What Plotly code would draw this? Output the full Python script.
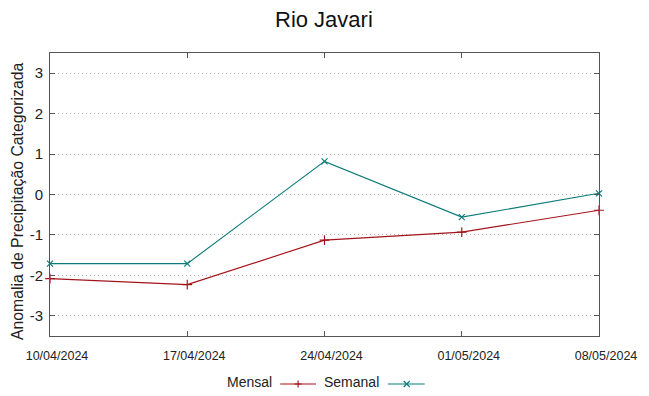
import plotly.graph_objects as go

# ---- data ----
dates = ['10/04/2024', '17/04/2024', '24/04/2024', '01/05/2024', '08/05/2024']
mensal = [-2.08, -2.23, -1.13, -0.93, -0.39]
semanal = [-1.71, -1.71, 0.82, -0.56, 0.03]
y_ticks = [-3, -2, -1, 0, 1, 2, 3]
y_ticktext = ['-3', '-2', '-1', '0', '1', '2', '3']
series_names = ['Mensal', 'Semanal']

W, H = 649, 396
FONT = 'Liberation Sans, Arial, sans-serif'
RED = '#a3141a'
TEAL = '#0c7b7b'
FRAME = '#555555'
LW = 1.15

# plot area in pixels
L, R, T, B = 50, 601, 53, 336
PW, PH = R - L, B - T


def px(x):  # figure pixel -> paper x
    return (x - L) / PW


def py(y):  # figure pixel -> paper y
    return (B - y) / PH


fig = go.Figure()

fig.add_trace(go.Scatter(
    x=dates, y=mensal, name=series_names[0], mode='lines+markers',
    line=dict(color=RED, width=LW),
    marker=dict(symbol='cross-thin', size=7, line=dict(color=RED, width=LW)),
    cliponaxis=False, showlegend=False))
fig.add_trace(go.Scatter(
    x=dates, y=semanal, name=series_names[1], mode='lines+markers',
    line=dict(color=TEAL, width=LW),
    marker=dict(symbol='x-thin', size=6, line=dict(color=TEAL, width=LW)),
    cliponaxis=False, showlegend=False))

# manual legend (text before sample, as in the reference)
leg_y = 384
shapes = []
for col, kind, x0, x1, xm in [
    (RED, 'plus', 281, 317, 299),
    (TEAL, 'cross', 389, 426, 408),
]:
    shapes.append(dict(type='line', xref='paper', yref='paper',
                       x0=px(x0), x1=px(x1), y0=py(leg_y), y1=py(leg_y),
                       line=dict(color=col, width=LW)))
    if kind == 'plus':
        segs = [(-3.5, 0, 3.5, 0), (0, -3.5, 0, 3.5)]
    else:
        segs = [(-3, -3, 3, 3), (-3, 3, 3, -3)]
    for a, b, c, d in segs:
        shapes.append(dict(type='line', xref='paper', yref='paper',
                           xsizemode='pixel', ysizemode='pixel',
                           xanchor=px(xm), yanchor=py(leg_y),
                           x0=a, y0=b, x1=c, y1=d,
                           line=dict(color=col, width=LW)))

annotations = [
    dict(text=series_names[0], x=px(275), y=py(381.5), xref='paper', yref='paper',
         xanchor='right', yanchor='middle', showarrow=False,
         font=dict(family=FONT, size=14, color='#222')),
    dict(text=series_names[1], x=px(323), y=py(381.5), xref='paper', yref='paper',
         xanchor='left', yanchor='middle', showarrow=False,
         font=dict(family=FONT, size=14, color='#222')),
    dict(text='Anomalia de Precipitação Categorizada', x=px(18), y=py(201),
         xref='paper', yref='paper', textangle=-90, xanchor='center', yanchor='middle',
         showarrow=False, font=dict(family=FONT, size=15.8, color='#222')),
    dict(text='Rio Javari', x=px(W / 2), y=py(19), xref='paper', yref='paper',
         xanchor='center', yanchor='middle', showarrow=False,
         font=dict(family=FONT, size=22, color='#111')),
]

fig.update_layout(
    width=W, height=H,
    margin=dict(l=L, r=W - R, t=T, b=H - B, pad=0),
    paper_bgcolor='white', plot_bgcolor='white',
    font=dict(family=FONT, color='#222'),
    showlegend=False,
    annotations=annotations,
    shapes=shapes,
    xaxis=dict(
        type='category', range=[0, len(dates) - 1],
        showline=True, linecolor=FRAME, linewidth=1, mirror='ticks',
        ticks='inside', ticklen=5, tickcolor=FRAME, tickwidth=1,
        showgrid=False, zeroline=False,
        tickfont=dict(family=FONT, size=12.5, color='#222'),
        ticklabelshift=7, ticklabelstandoff=8,
        fixedrange=True,
    ),
    yaxis=dict(
        range=[-3.5, 3.5],
        tickvals=y_ticks, ticktext=y_ticktext,
        showline=True, linecolor=FRAME, linewidth=1, mirror='ticks',
        ticks='inside', ticklen=5, tickcolor=FRAME, tickwidth=1,
        showgrid=True, gridcolor='#b4b4b4', gridwidth=1, griddash='1px,3px',
        zeroline=False,
        tickfont=dict(family=FONT, size=15, color='#222'),
        ticklabelstandoff=3,
        fixedrange=True,
    ),
)

fig.write_html('out.html',
               config={'displayModeBar': False},
               post_script="document.body.style.margin='0';document.body.style.overflow='hidden';")
